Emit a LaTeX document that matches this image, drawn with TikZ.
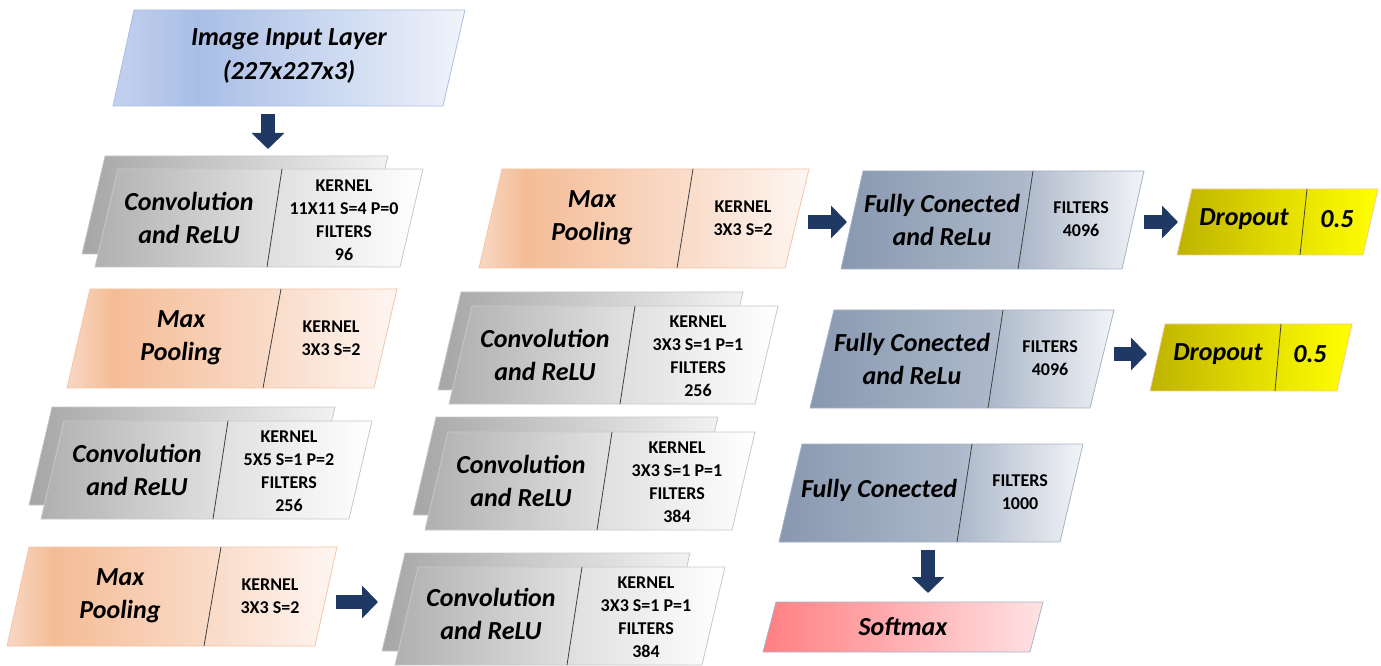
\documentclass[tikz,border=0pt]{standalone}
\usepackage{fontspec}
\setmainfont{Carlito}
\usetikzlibrary{arrows.meta}

\definecolor{arrowblue}{HTML}{203864}
\definecolor{inA}{HTML}{C3D1EE}\definecolor{inB}{HTML}{A9BEE6}\definecolor{inC}{HTML}{F0F4FB}
\definecolor{grA}{HTML}{B0B0B0}\definecolor{grB}{HTML}{E0E0E0}\definecolor{grC}{HTML}{FFFFFF}
\definecolor{bkA}{HTML}{A6A6A6}\definecolor{bkC}{HTML}{F2F2F2}
\definecolor{poA}{HTML}{F8D8C4}\definecolor{poB}{HTML}{F4BC96}\definecolor{poC}{HTML}{F9DAC6}\definecolor{poD}{HTML}{FEF6F2}
\definecolor{fcA}{HTML}{8898B0}\definecolor{fcB}{HTML}{ADB9CA}\definecolor{fcC}{HTML}{F2F4F7}
\definecolor{drA}{HTML}{BDB300}\definecolor{drB}{HTML}{E2DB00}\definecolor{drC}{HTML}{FFFF00}
\definecolor{soA}{HTML}{FF7F82}\definecolor{soC}{HTML}{FFE2E4}
\definecolor{inedge}{HTML}{A8BEE4}
\definecolor{convedge}{HTML}{C8C8C8}
\definecolor{pooledge}{HTML}{F4C4A4}
\definecolor{fcedge}{HTML}{A4B2C8}
\definecolor{dropedge}{HTML}{F4C8A4}
\definecolor{softedge}{HTML}{A8B4CC}

% left to right fills, 25bp..75bp spans the path
\pgfdeclarehorizontalshading{inshade}{100bp}{color(0bp)=(inA); color(25bp)=(inA); color(37bp)=(inB); color(75bp)=(inC); color(100bp)=(inC)}
\pgfdeclarehorizontalshading{backshade}{100bp}{color(0bp)=(bkA); color(25bp)=(bkA); color(75bp)=(bkC); color(100bp)=(bkC)}
\pgfdeclarehorizontalshading{convshade}{100bp}{color(0bp)=(grA); color(25bp)=(grA); color(52bp)=(grB); color(75bp)=(grC); color(100bp)=(grC)}
\pgfdeclarehorizontalshading{poolshade}{100bp}{color(0bp)=(poA); color(25bp)=(poA); color(32bp)=(poB); color(55bp)=(poC); color(75bp)=(poD); color(100bp)=(poD)}
\pgfdeclarehorizontalshading{fcshade}{100bp}{color(0bp)=(fcA); color(25bp)=(fcA); color(55bp)=(fcB); color(75bp)=(fcC); color(100bp)=(fcC)}
\pgfdeclarehorizontalshading{dropshade}{100bp}{color(0bp)=(drA); color(25bp)=(drA); color(50bp)=(drB); color(75bp)=(drC); color(100bp)=(drC)}
\pgfdeclarehorizontalshading{softshade}{100bp}{color(0bp)=(soA); color(25bp)=(soA); color(75bp)=(soC); color(100bp)=(soC)}

\begin{document}
\begin{tikzpicture}[x=.75pt,y=-.75pt,
  inbox/.style={shade,shading=inshade,draw=inedge,line width=.6pt},
  convback/.style={shade,shading=backshade,draw=convedge,line width=.6pt},
  convbox/.style={shade,shading=convshade,draw=convedge,line width=.6pt},
  poolbox/.style={shade,shading=poolshade,draw=pooledge,line width=.6pt},
  fcbox/.style={shade,shading=fcshade,draw=fcedge,line width=.6pt},
  dropbox/.style={shade,shading=dropshade,draw=dropedge,line width=.6pt},
  softbox/.style={shade,shading=softshade,draw=softedge,line width=.6pt},
  divider/.style={draw=black!75,line width=.6pt},
  bigtxt/.style={font=\fontsize{19.5}{25}\selectfont\bfseries\itshape,align=center,inner sep=0pt},
  smalltxt/.style={font=\fontsize{13.5}{17.25}\selectfont\bfseries,align=center,inner sep=0pt},
  flow/.style={draw=arrowblue,line width=10.5pt,-{Triangle[length=12pt,width=24pt]}}]
\useasboundingbox (0,0) rectangle (1381,666);

% input
\path[inbox] (113,106) -- (443,106) -- (465,10) -- (134,10) -- cycle;
\node[bigtxt] (in-txt) at (289,56) {Image Input Layer\\(227x227x3)};

% first column
\path[convback] (82,254) -- (365,254) -- (388,156) -- (105,156) -- cycle;
\path[convbox] (95,267) -- (400,267) -- (423,169) -- (118,169) -- cycle;
\draw[divider] (282,169) -- (267,267);
\node[bigtxt] (conv1-name) at (189,218) {Convolution\\and ReLU};
\node[smalltxt] (conv1-par) at (344,220) {KERNEL\\11X11 S=4 P=0\\FILTERS\\96};

\path[poolbox] (67,388) -- (374,388) -- (397,289) -- (90,289) -- cycle;
\draw[divider] (281,289) -- (263,388);
\node[bigtxt] (pool1-name) at (181,338) {Max\\Pooling};
\node[smalltxt] (pool1-par) at (331,338) {KERNEL\\3X3 S=2};

\path[convback] (29,505) -- (312,505) -- (335,407) -- (52,407) -- cycle;
\path[convbox] (41,519) -- (349,519) -- (372,421) -- (64,421) -- cycle;
\draw[divider] (228,421) -- (213,519);
\node[bigtxt] (conv2-name) at (137,470) {Convolution\\and ReLU};
\node[smalltxt] (conv2-par) at (289,471) {KERNEL\\5X5 S=1 P=2\\FILTERS\\256};

\path[poolbox] (7,646) -- (315,646) -- (337,547) -- (29,547) -- cycle;
\draw[divider] (221,547) -- (204,646);
\node[bigtxt] (pool2-name) at (120,596) {Max\\Pooling};
\node[smalltxt] (pool2-par) at (270,596) {KERNEL\\3X3 S=2};

% second column
\path[poolbox] (479,268) -- (785,268) -- (809,169) -- (502,169) -- cycle;
\draw[divider] (693,169) -- (677,268);
\node[bigtxt] (pool3-name) at (592,218) {Max\\Pooling};
\node[smalltxt] (pool3-par) at (743,218) {KERNEL\\3X3 S=2};

\path[convback] (438,390) -- (720,390) -- (743,292) -- (461,292) -- cycle;
\path[convbox] (449,404) -- (755,404) -- (778,306) -- (472,306) -- cycle;
\draw[divider] (635,306) -- (620,404);
\node[bigtxt] (conv3-name) at (545,355) {Convolution\\and ReLU};
\node[smalltxt] (conv3-par) at (698,356) {KERNEL\\3X3 S=1 P=1\\FILTERS\\256};

\path[convback] (413,515) -- (695,515) -- (718,417) -- (436,417) -- cycle;
\path[convbox] (425,530) -- (732,530) -- (755,432) -- (448,432) -- cycle;
\draw[divider] (612,432) -- (597,530);
\node[bigtxt] (conv4-name) at (521,481) {Convolution\\and ReLU};
\node[smalltxt] (conv4-par) at (677,482) {KERNEL\\3X3 S=1 P=1\\FILTERS\\384};

\path[convback] (382,651) -- (667,651) -- (690,553) -- (405,553) -- cycle;
\path[convbox] (395,665) -- (702,665) -- (725,567) -- (418,567) -- cycle;
\draw[divider] (582,567) -- (567,665);
\node[bigtxt] (conv5-name) at (491,614) {Convolution\\and ReLU};
\node[smalltxt] (conv5-par) at (646,617) {KERNEL\\3X3 S=1 P=1\\FILTERS\\384};

% fully connected part
\path[fcbox] (841,269) -- (1122,269) -- (1144,171) -- (863,171) -- cycle;
\draw[divider] (1033,171) -- (1018,269);
\node[bigtxt] (fc1-name) at (942,220) {Fully Conected\\and ReLu};
\node[smalltxt] (fc1-par) at (1081,219) {FILTERS\\4096};

\path[fcbox] (810,408) -- (1090,408) -- (1114,310) -- (834,310) -- cycle;
\draw[divider] (1003,310) -- (988,408);
\node[bigtxt] (fc2-name) at (912,359) {Fully Conected\\and ReLu};
\node[smalltxt] (fc2-par) at (1050,358) {FILTERS\\4096};

\path[fcbox] (779,542) -- (1060,542) -- (1083,444) -- (802,444) -- cycle;
\draw[divider] (972,444) -- (957,542);
\node[bigtxt] (fc3-name) at (879,490) {Fully Conected};
\node[smalltxt] (fc3-par) at (1020,492) {FILTERS\\1000};

\path[dropbox] (1177,255) -- (1363,255) -- (1378,189) -- (1192,189) -- cycle;
\draw[divider] (1307,189) -- (1300,255);
\node[bigtxt] (drop1-name) at (1244,219) {Dropout};
\node[bigtxt] (drop1-par) at (1337,219) {0.5};

\path[dropbox] (1150,391) -- (1337,391) -- (1352,324) -- (1165,324) -- cycle;
\draw[divider] (1281,324) -- (1275,391);
\node[bigtxt] (drop2-name) at (1218,354) {Dropout};
\node[bigtxt] (drop2-par) at (1310,354) {0.5};

\path[softbox] (763,652) -- (1030,652) -- (1043,602) -- (776,602) -- cycle;
\node[bigtxt] (soft-name) at (903,627) {Softmax};

% arrows
\coordinate (in-s) at (268,114);
\coordinate (conv1-n) at (268,149);
\coordinate (pool2-e) at (336,602);
\coordinate (conv5-w) at (378,602);
\coordinate (pool3-e) at (808,222);
\coordinate (fc1-w) at (847,222);
\coordinate (fc1-e) at (1144,222);
\coordinate (drop1-w) at (1178,222);
\coordinate (fc2-e) at (1114,354);
\coordinate (drop2-w) at (1147,354);
\coordinate (fc3-s) at (928,550);
\coordinate (soft-n) at (928,593);
\draw[flow] (in-s) -- (conv1-n);
\draw[flow] (pool2-e) -- (conv5-w);
\draw[flow] (pool3-e) -- (fc1-w);
\draw[flow] (fc1-e) -- (drop1-w);
\draw[flow] (fc2-e) -- (drop2-w);
\draw[flow] (fc3-s) -- (soft-n);
\end{tikzpicture}
\end{document}
